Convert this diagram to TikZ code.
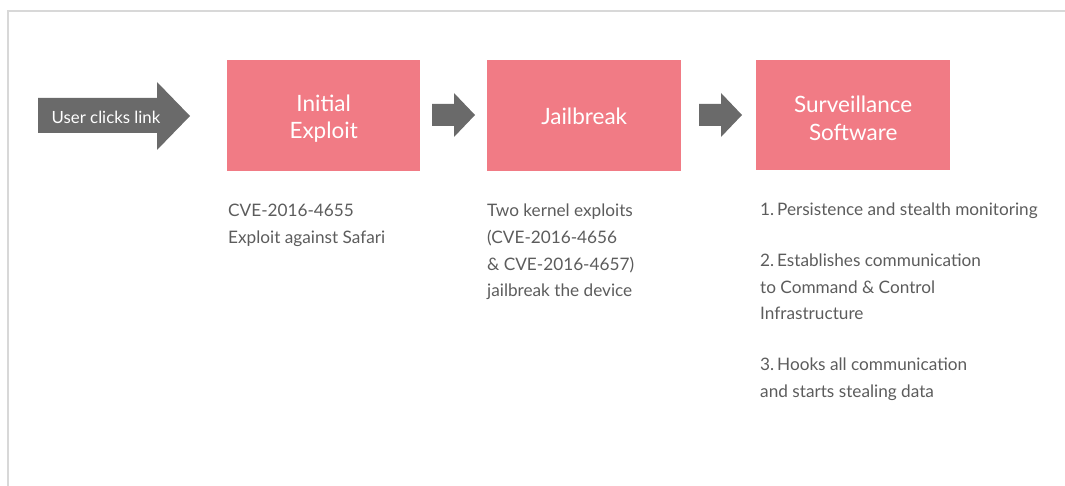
\documentclass[tikz,border=0pt]{standalone}
\usepackage{fontspec}
\setmainfont{Lato}
\definecolor{boxpink}{HTML}{F17B85}
\definecolor{arrowgrey}{HTML}{6A6A6A}
\definecolor{txtgrey}{HTML}{5C5C5C}
\definecolor{framegrey}{HTML}{D8D8D8}
\begin{document}
\begin{tikzpicture}[x=1pt,y=-1pt,
  stagebox/.style={fill=boxpink, draw=none, minimum width=193pt, minimum height=111pt, anchor=north west, inner sep=0pt},
  boxtext/.style={text=white, align=center, font=\fontsize{22.5}{27.5}\selectfont, inner sep=0pt},
  blockarrow/.style={fill=arrowgrey, draw=none},
  note/.style={anchor=north west, align=left, text=txtgrey, font=\fontsize{17.2}{26.7}\selectfont, inner sep=0pt},
  frameline/.style={draw=framegrey, line width=2pt}]
\useasboundingbox (0,0) rectangle (1065,486);
% frame
\draw[frameline] (1065,11) -- (8,11) -- (8,486);
% big arrow
\fill[blockarrow] (38,98) -- (157,98) -- (157,82) -- (190,116) -- (157,150) -- (157,133) -- (38,133) -- cycle;
\node[text=white, font=\fontsize{16.8}{18}\selectfont, inner sep=0pt] (click) at (106,117) {User clicks link};
% boxes
\node[stagebox] (b1) at (227,60) {};
\node[stagebox, minimum width=194pt] (b2) at (487,60) {};
\node[stagebox, minimum width=194pt, minimum height=110pt] (b3) at (756,60) {};
\node[boxtext] (t1) at ([yshift=-3pt]b1.center) {Initial\\Exploit};
\node[boxtext] (t2) at ([yshift=-1pt]b2.center) {Jailbreak};
\node[boxtext] (t3) at ([yshift=-3pt]b3.center) {Surveillance\\Software};
% small arrows
\fill[blockarrow] (432,104) -- (454,104) -- (454,93) -- (475,115) -- (454,137) -- (454,126) -- (432,126) -- cycle;
\fill[blockarrow] (699,104) -- (721,104) -- (721,93) -- (742,115) -- (721,137) -- (721,126) -- (699,126) -- cycle;
% notes
\node[note] (n1) at (228,204) {CVE-2016-4655\\Exploit against Safari};
\node[note] (n2) at (487,204) {Two kernel exploits\\(CVE-2016-4656\\\&~CVE-2016-4657)\\jailbreak the device};
\node[note] (n3) at (760,203) {1.\,Persistence and stealth monitoring\\[24pt]2.\,Establishes communication\\to Command \& Control\\Infrastructure\\[24pt]3.\,Hooks all communication\\and starts stealing data};
\end{tikzpicture}
\end{document}
